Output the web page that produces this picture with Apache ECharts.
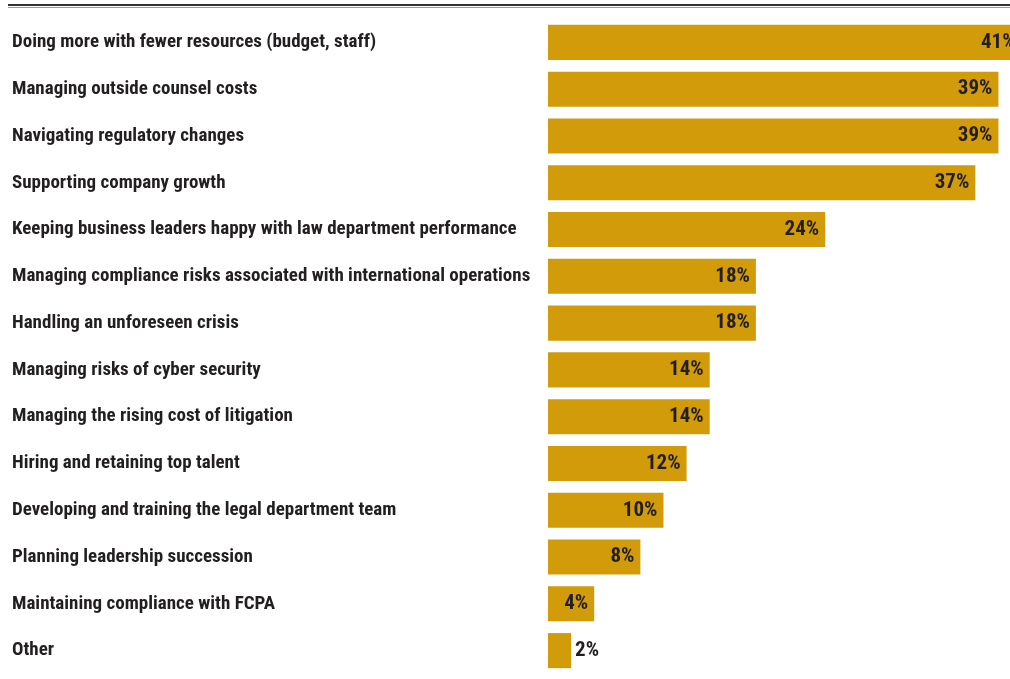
<!DOCTYPE html>
<html>
<head>
<meta charset="utf-8">
<script src="https://cdn.jsdelivr.net/npm/echarts@6/dist/echarts.min.js"></script>
<style>
  html, body { margin: 0; padding: 0; background: #fff; }
  #chart { width: 1010px; height: 679px; }
</style>
</head>
<body>
<div id="chart"></div>
<script>
  var categories = [
    'Doing more with fewer resources (budget, staff)',
    'Managing outside counsel costs',
    'Navigating regulatory changes',
    'Supporting company growth',
    'Keeping business leaders happy with law department performance',
    'Managing compliance risks associated with international operations',
    'Handling an unforeseen crisis',
    'Managing risks of cyber security',
    'Managing the rising cost of litigation',
    'Hiring and retaining top talent',
    'Developing and training the legal department team',
    'Planning leadership succession',
    'Maintaining compliance with FCPA',
    'Other'
  ];
  var values = [41, 39, 39, 37, 24, 18, 18, 14, 14, 12, 10, 8, 4, 2];

  var fontFamily = '"Roboto Condensed", "Liberation Sans Narrow", sans-serif';

  var chart = echarts.init(document.getElementById('chart'));
  chart.setOption({
    animation: false,
    graphic: [
      { type: 'rect', shape: { x: 8, y: 4, width: 1002, height: 2 }, style: { fill: '#333' } },
      { type: 'rect', shape: { x: 8, y: 7, width: 1002, height: 1 }, style: { fill: '#999' } }
    ],
    // grid is 462px for 40%, so the 41% bar runs past the right edge
    grid: { left: 548, top: 19, right: 0, height: 655 },
    xAxis: {
      type: 'value', min: 0, max: 40,
      show: false
    },
    yAxis: {
      type: 'category',
      inverse: true,
      data: categories,
      axisLine: { show: false },
      axisTick: { show: false },
      axisLabel: {
        align: 'left',
        margin: 536,
        padding: [3, 0, 0, 0],
        color: '#231f20',
        fontFamily: fontFamily,
        fontWeight: 'bold',
        fontSize: 19
      }
    },
    series: [{
      type: 'bar',
      clip: false,
      data: values.map(function (v, i) {
        return {
          value: v,
          label: i === values.length - 1
            ? { position: 'right', distance: 4 }
            : { position: 'insideRight', distance: 6 }
        };
      }),
      barCategoryGap: '25%',
      itemStyle: { color: '#D29B09' },
      label: {
        show: true,
        formatter: '{c}%',
        color: '#231f20',
        fontFamily: fontFamily,
        fontWeight: 'bold',
        fontSize: 21,
        padding: [3, 0, 0, 0]
      }
    }]
  });
</script>
</body>
</html>
